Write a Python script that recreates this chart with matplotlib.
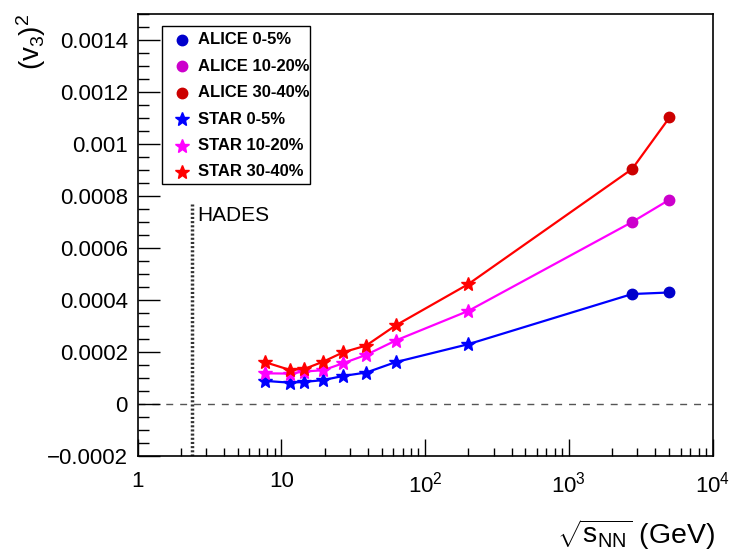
import matplotlib
matplotlib.use("Agg")
import matplotlib.pyplot as plt
from matplotlib.patches import Rectangle
from matplotlib.ticker import FixedLocator, MultipleLocator, LogLocator

plt.rcParams['font.family'] = ['Liberation Sans', 'DejaVu Sans']
plt.rcParams['mathtext.fontset'] = 'custom'
plt.rcParams['mathtext.rm'] = 'Liberation Sans'
plt.rcParams['mathtext.it'] = 'Liberation Sans'
plt.rcParams['mathtext.default'] = 'regular'

# energies (GeV)
sqrt_s_star = [7.7, 11.5, 14.5, 19.6, 27, 39, 62.4, 200]
sqrt_s_alice = [2760, 5020]

# (v3)^2 values, units of 1e-4
star_0_5 = [0.89, 0.82, 0.85, 0.92, 1.08, 1.21, 1.61, 2.30]
star_10_20 = [1.18, 1.17, 1.25, 1.30, 1.57, 1.89, 2.44, 3.58]
star_30_40 = [1.61, 1.31, 1.35, 1.63, 1.99, 2.25, 3.02, 4.61]
alice_0_5 = [4.23, 4.29]
alice_10_20 = [7.00, 7.86]
alice_30_40 = [9.04, 11.02]

hades_x = 2.4

y_ticks = [-0.0002, 0, 0.0002, 0.0004, 0.0006, 0.0008, 0.001, 0.0012, 0.0014]
y_tick_labels = ['\u22120.0002', '0', '0.0002', '0.0004', '0.0006', '0.0008', '0.001', '0.0012', '0.0014']
x_ticks = [1, 10, 100, 1000, 10000]
x_tick_labels = ['1', '10', '$10^{2}$', '$10^{3}$', '$10^{4}$']

W, H = 731, 552
fig = plt.figure(figsize=(W / 100, H / 100), dpi=100)
ax = fig.add_axes([0.1881, 0.1739, 0.7866, 0.8007])

star_cols = ['#0000ff', '#ff00ff', '#ff0000']
alice_cols = ['#0000cc', '#cc00cc', '#cc0000']
stars = [star_0_5, star_10_20, star_30_40]
alices = [alice_0_5, alice_10_20, alice_30_40]
names = ['0-5%', '10-20%', '30-40%']

for s, a, sc in zip(stars, alices, star_cols):
    xs = sqrt_s_star + sqrt_s_alice
    ys = [v * 1e-4 for v in s + a]
    ax.plot(xs, ys, color=sc, linewidth=1.6, zorder=2)

for s, sc in zip(stars, star_cols):
    ax.plot(sqrt_s_star, [v * 1e-4 for v in s], linestyle='none', marker='*',
            markersize=10.5, color=sc, zorder=3)
for a, ac in zip(alices, alice_cols):
    ax.plot(sqrt_s_alice, [v * 1e-4 for v in a], linestyle='none', marker='o',
            markersize=7.5, color=ac, zorder=3)

# zero line and HADES marker
ax.axhline(0, color='#555555', linestyle=(0, (5, 5)), linewidth=1.0, zorder=1)
ax.plot([hades_x, hades_x], [-0.0002, 0.000768], color='#333333',
        linestyle=(0, (0.6, 0.6)), linewidth=2.5, zorder=1)
ax.text(2.6, 0.000725, 'HADES', fontsize=15, ha='left', va='center')

ax.set_xscale('log')
ax.set_xlim(1, 1e4)
ax.set_ylim(-0.0002, 0.0015)

ax.yaxis.set_major_locator(FixedLocator(y_ticks))
ax.set_yticklabels(y_tick_labels)
ax.yaxis.set_minor_locator(MultipleLocator(0.00005))
ax.xaxis.set_major_locator(FixedLocator(x_ticks))
ax.set_xticklabels(x_tick_labels)
ax.xaxis.set_minor_locator(LogLocator(base=10, subs=range(2, 10)))

ax.tick_params(axis='y', which='major', direction='in', length=16, width=1, labelsize=16, pad=7)
ax.tick_params(axis='x', which='major', direction='in', length=12, width=1, labelsize=16, pad=11)
ax.tick_params(axis='y', which='minor', direction='in', length=8, width=1)
ax.tick_params(axis='x', which='minor', direction='in', length=6, width=1)
for sp in ax.spines.values():
    sp.set_linewidth(1.2)

# axis titles
fig.text(0.978, 0.0, r'$\sqrt{s_{NN}}$ (GeV)', fontsize=20.5, ha='right', va='bottom')
fig.text(0.042, 0.975, r'$(v_{3})^{2}$', fontsize=20, ha='center', va='top', rotation=90)

# legend box, drawn in figure pixels
fig.patches.append(Rectangle((162 / W, 1 - 184 / H), 148 / W, 158 / H, transform=fig.transFigure,
                             facecolor='white', edgecolor='black', linewidth=1.0, zorder=5))
entries = [('o', 7.5, c, 'ALICE ' + n) for n, c in zip(names, alice_cols)] + \
          [('*', 10.5, c, 'STAR ' + n) for n, c in zip(names, star_cols)]
for i, (mk, ms, col, lab) in enumerate(entries):
    yy = 1 - (40 + i * 26.4) / H
    fig.add_artist(plt.Line2D([182 / W], [yy], marker=mk, markersize=ms, color=col,
                              linestyle='none', transform=fig.transFigure, zorder=6))
    fig.text(198 / W, yy, lab, fontsize=12, fontweight='bold', ha='left', va='center', zorder=6)

fig.savefig('out.png', dpi=100)
